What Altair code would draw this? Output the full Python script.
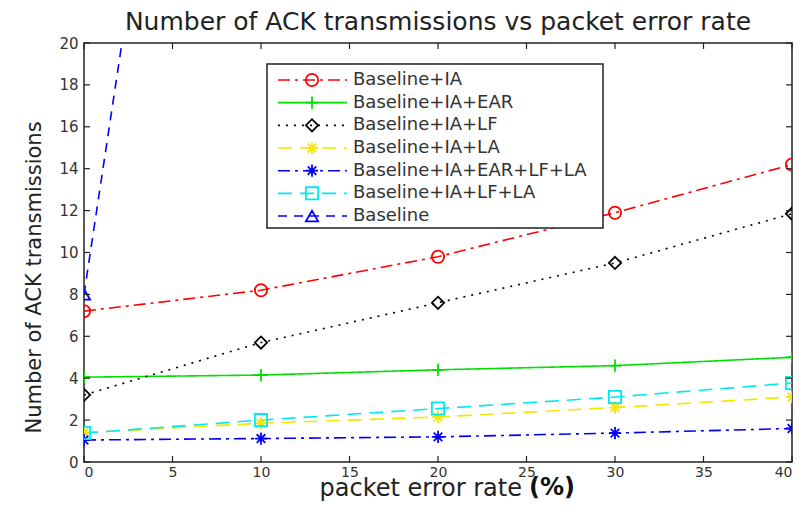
import altair as alt
import pandas as pd

# ---- data ----
per_err = [0, 10, 20, 30, 40]
series_names = [
    "Baseline+IA",
    "Baseline+IA+EAR",
    "Baseline+IA+LF",
    "Baseline+IA+LA",
    "Baseline+IA+EAR+LF+LA",
    "Baseline+IA+LF+LA",
    "Baseline",
]
ia = [7.2, 8.2, 9.8, 11.9, 14.2]
ia_ear = [4.05, 4.15, 4.4, 4.6, 5.0]
ia_lf = [3.2, 5.7, 7.6, 9.5, 11.85]
ia_la = [1.4, 1.85, 2.15, 2.6, 3.1]
ia_ear_lf_la = [1.05, 1.12, 1.2, 1.38, 1.6]
ia_lf_la = [1.38, 2.0, 2.55, 3.1, 3.77]
baseline_x = [0, 10]
baseline = [8.0, 64.0]

x_ticks = [0, 5, 10, 15, 20, 25, 30, 35, 40]
y_ticks = [0, 2, 4, 6, 8, 10, 12, 14, 16, 18, 20]

colors = ["#ff0000", "#00e000", "#000000", "#f5e600", "#0000ff", "#00e8f0", "#0000ff"]
dashes = [[12, 5, 3, 5], [1, 0], [2, 6], [14, 8], [12, 5, 3, 5], [14, 8], [9, 7]]
PLUS = "M-1,0L1,0M0,-1L0,1"
STAR = "M-1,0L1,0M0,-1L0,1M-0.7,-0.7L0.7,0.7M-0.7,0.7L0.7,-0.7"
shapes = ["circle", PLUS, "diamond", STAR, STAR, "square", "triangle-up"]

rows = []
for name, vals in zip(series_names[:6], [ia, ia_ear, ia_lf, ia_la, ia_ear_lf_la, ia_lf_la]):
    for x, v in zip(per_err, vals):
        rows.append({"series": name, "per": x, "val": v})
for x, v in zip(baseline_x, baseline):
    rows.append({"series": "Baseline", "per": x, "val": v})
df = pd.DataFrame(rows)

W, H = 708, 419
FONT = "DejaVu Sans"

xs = alt.Scale(domain=[0, 40], nice=False, zero=False)
ys = alt.Scale(domain=[0, 20], nice=False)
color_scale = alt.Scale(domain=series_names, range=colors)
dash_scale = alt.Scale(domain=series_names, range=dashes)
shape_scale = alt.Scale(domain=series_names, range=shapes)

x_axis = alt.Axis(
    values=x_ticks, ticks=False, domain=False, grid=False,
    labelFont=FONT, labelFontSize=14, labelColor="#333", labelPadding=3,
    title="packet error rate", titleFont=FONT, titleFontSize=24,
    titleFontWeight="normal", titleColor="#222",
    titleX=235, titleY=33, titleBaseline="alphabetic", titleAlign="left",
)
y_axis = alt.Axis(
    values=y_ticks, ticks=False, domain=False, grid=False,
    labelFont=FONT, labelFontSize=15, labelColor="#333", labelPadding=6,
    title="Number of ACK transmissions", titleFont=FONT, titleFontSize=21,
    titleFontWeight="normal", titleColor="#222",
    titleX=-44, titleY=234, titleBaseline="alphabetic",
)

lines = alt.Chart(df).mark_line(clip=True, strokeWidth=1.6).encode(
    x=alt.X("per:Q", scale=xs, axis=x_axis),
    y=alt.Y("val:Q", scale=ys, axis=y_axis),
    color=alt.Color("series:N", scale=color_scale, legend=None),
    strokeDash=alt.StrokeDash("series:N", scale=dash_scale, legend=None),
)
points = alt.Chart(df).mark_point(clip=True, filled=False, size=150, strokeWidth=1.8, opacity=1).encode(
    x=alt.X("per:Q", scale=xs),
    y=alt.Y("val:Q", scale=ys),
    color=alt.Color("series:N", scale=color_scale, legend=None),
    shape=alt.Shape("series:N", scale=shape_scale, legend=None),
)

xt = pd.DataFrame({"per": x_ticks})
yt = pd.DataFrame({"val": y_ticks})
tick_style = dict(color="#222", strokeWidth=1.2)
tb = alt.Chart(xt).mark_rule(**tick_style).encode(
    x=alt.X("per:Q", scale=xs), y=alt.value(H), y2=alt.value(H - 6))
tt = alt.Chart(xt).mark_rule(**tick_style).encode(
    x=alt.X("per:Q", scale=xs), y=alt.value(0), y2=alt.value(6))
tl = alt.Chart(yt).mark_rule(**tick_style).encode(
    y=alt.Y("val:Q", scale=ys), x=alt.value(0), x2=alt.value(6))
tr = alt.Chart(yt).mark_rule(**tick_style).encode(
    y=alt.Y("val:Q", scale=ys), x=alt.value(W - 6), x2=alt.value(W))

# bold "(%)" unit that follows the x-axis title
unit = alt.Chart(pd.DataFrame({"u": ["(%)"]})).mark_text(
    align="left", baseline="alphabetic", font=FONT, fontSize=24, fontWeight="bold", color="#111"
).encode(x=alt.value(445), y=alt.value(H + 33), text="u:N")

layers = [lines, points, tb, tt, tl, tr, unit]

# ---- hand-made MATLAB style legend (box + one row per series) ----
leg_df = pd.DataFrame({"series": series_names})
layers.append(
    alt.Chart(pd.DataFrame({"a": [0]})).mark_rect(fill="white", stroke="#222", strokeWidth=1.5).encode(
        x=alt.value(183), x2=alt.value(519), y=alt.value(21), y2=alt.value(185))
)
for i, name in enumerate(series_names):
    yy = 37 + i * 22.67
    base = alt.Chart(leg_df).transform_filter(alt.datum.series == name)
    layers.append(base.mark_rule(strokeWidth=1.6).encode(
        x=alt.value(194), x2=alt.value(263), y=alt.value(yy),
        color=alt.Color("series:N", scale=color_scale, legend=None),
        strokeDash=alt.StrokeDash("series:N", scale=dash_scale, legend=None),
    ))
    layers.append(base.mark_point(filled=False, size=150, strokeWidth=1.8, opacity=1).encode(
        x=alt.value(228), y=alt.value(yy),
        color=alt.Color("series:N", scale=color_scale, legend=None),
        shape=alt.Shape("series:N", scale=shape_scale, legend=None),
    ))
    layers.append(base.mark_text(align="left", baseline="middle", font=FONT, fontSize=18, color="#333").encode(
        x=alt.value(269), y=alt.value(yy), text="series:N"))

chart = alt.layer(*layers).properties(
    width=W, height=H,
    autosize=alt.AutoSizeParams(type="none"),
    padding={"left": 76, "top": 35, "right": 5, "bottom": 39},
    title=alt.Title("Number of ACK transmissions vs packet error rate", font=FONT, fontSize=25,
                    fontWeight="normal", color="#222", anchor="middle", offset=1,
                    frame="group"),
).configure_view(stroke="#222", strokeWidth=1.5)

chart.save("out.html", embed_options={"renderer": "svg", "actions": False})
